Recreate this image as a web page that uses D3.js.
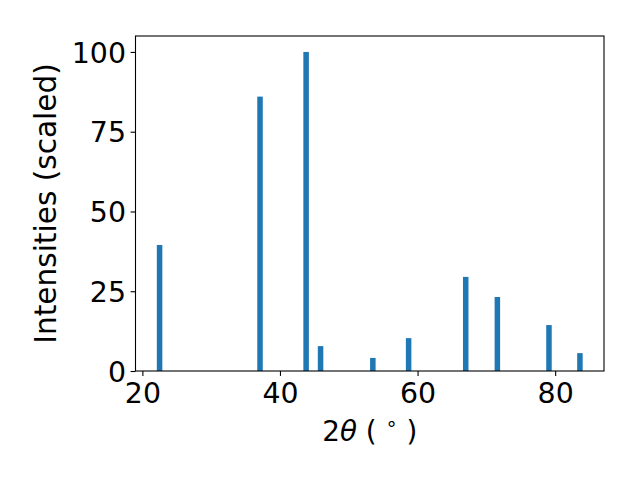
<!DOCTYPE html>
<html><head><meta charset="utf-8">
<script src="https://cdn.jsdelivr.net/npm/d3@7"></script>
<style>body{margin:0;background:#fff}svg{display:block}text{font-family:"DejaVu Sans",sans-serif;fill:#000}</style>
</head><body>
<svg id="chart" width="640" height="480"></svg>
<script>
const twoTheta = [22.5, 37.1, 43.8, 45.9, 53.5, 58.7, 67.0, 71.6, 79.1, 83.6];
const intensities = [39.5, 86.0, 100, 7.8, 4.1, 10.3, 29.5, 23.2, 14.4, 5.6];
const xTicks = [20, 40, 60, 80];
const yTicks = [0, 25, 50, 75, 100];
const barWidth = 0.8;

const svg = d3.select("#chart");
const L = 135.5, R = 604, T = 36, B = 371;
const x = d3.scaleLinear().domain([19.0, 87.1]).range([L, R]);
const y = d3.scaleLinear().domain([0, 105]).range([B, T]);
const fs = 28.4;

svg.append("g").selectAll("rect").data(twoTheta).enter().append("rect")
  .attr("x", (d) => x(d - barWidth / 2))
  .attr("width", (d) => x(d + barWidth / 2) - x(d - barWidth / 2))
  .attr("y", (d, i) => y(intensities[i]))
  .attr("height", (d, i) => y(0) - y(intensities[i]))
  .attr("fill", "#1f77b4");

const xAxis = svg.append("g").attr("transform", `translate(0,${B})`)
  .call(d3.axisBottom(x).tickValues(xTicks).tickSize(4.9).tickPadding(5).tickFormat(d3.format("d")));
const yAxis = svg.append("g").attr("transform", `translate(${L},0)`)
  .call(d3.axisLeft(y).tickValues(yTicks).tickSize(4.9).tickPadding(5).tickFormat(d3.format("d")));
[xAxis, yAxis].forEach(a => {
  a.select(".domain").remove();
  a.selectAll(".tick line").attr("stroke", "#000").attr("stroke-width", 1.1);
  a.selectAll(".tick text").attr("font-size", fs).attr("font-family", "DejaVu Sans").attr("fill", "#000");
});
xAxis.selectAll(".tick text").attr("dy", null).attr("y", null).attr("transform", "translate(0,32)");
yAxis.selectAll(".tick text").attr("dy", "0.36em").attr("x", -9.5);

svg.append("rect").attr("x", L).attr("y", T).attr("width", R - L).attr("height", B - T)
  .attr("fill", "none").attr("stroke", "#000").attr("stroke-width", 1.1);

const xl = svg.append("text").attr("x", (L + R) / 2).attr("y", 441).attr("text-anchor", "middle")
  .attr("font-size", 27.8);
xl.append("tspan").text("2");
xl.append("tspan").attr("font-style", "italic").text("θ");
xl.append("tspan").text(" ( ");
xl.append("tspan").attr("font-size", 27.8 * 0.7).attr("dy", -11).text("∘");
xl.append("tspan").attr("dy", 11).text(" )");

svg.append("text").attr("transform", `translate(56,${(T + B) / 2}) rotate(-90)`)
  .attr("text-anchor", "middle").attr("font-size", 29.6).text("Intensities (scaled)");
</script>
</body></html>
